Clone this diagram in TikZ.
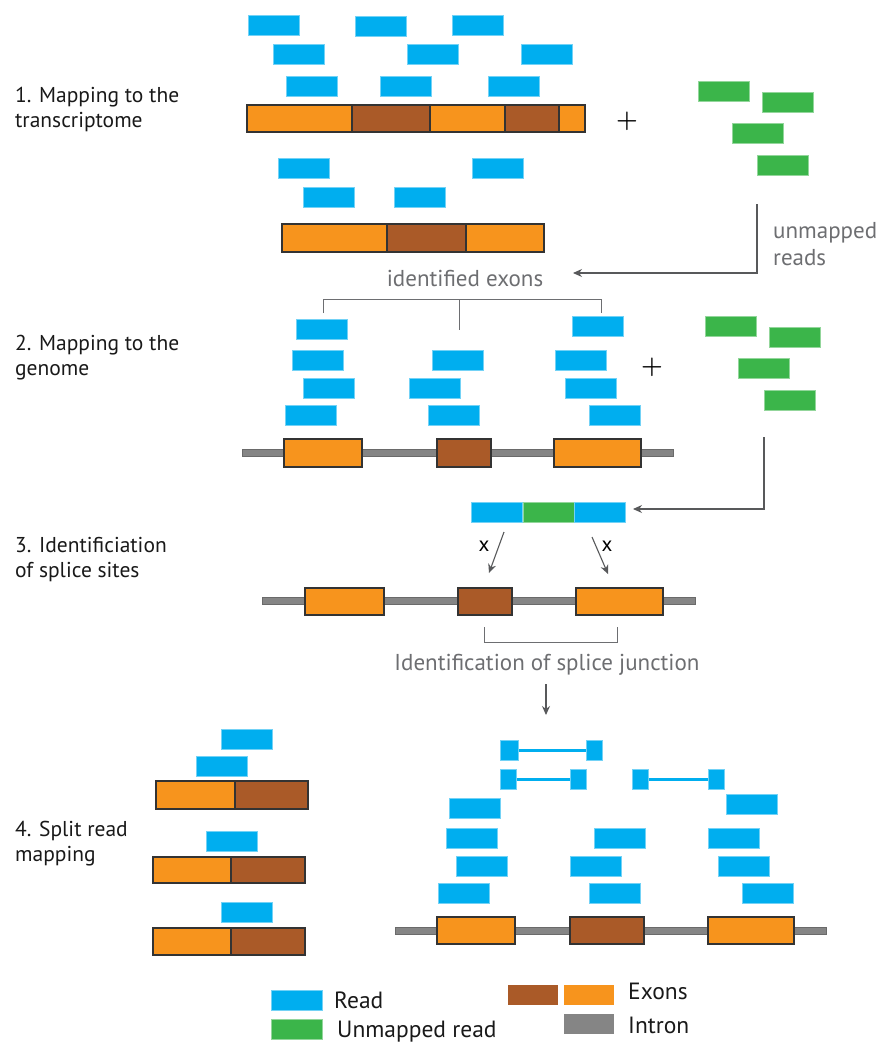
\documentclass[tikz,border=0pt]{standalone}
\usepackage{fontspec}
\setmainfont{PT Sans}
\usetikzlibrary{arrows.meta,positioning}
\definecolor{readblue}{HTML}{00AEEF}
\definecolor{unmapgreen}{HTML}{3BB54A}
\definecolor{exonorange}{HTML}{F7941D}
\definecolor{exonbrown}{HTML}{AA5A28}
\definecolor{introngray}{HTML}{858585}
\definecolor{textgray}{HTML}{6D6E71}
\definecolor{linegray}{HTML}{58595B}

\begin{document}
\begin{tikzpicture}[x=1pt,y=-1pt,
  read/.style={anchor=north west, inner sep=0pt, minimum width=51pt, minimum height=20pt, fill=readblue, draw=readblue!55!white, line width=0.5pt},
  unmapped/.style={read, fill=unmapgreen, draw=unmapgreen!55!white},
  piece/.style={read, minimum width=16pt},
  exon/.style={draw=black!80, line width=1.2pt},
  intron/.style={draw=introngray!80!black, fill=introngray, line width=0.5pt},
  steplabel/.style={anchor=base west, align=left, inner sep=0pt, font=\fontsize{21.5}{25}\selectfont, text=black!90},
  keylabel/.style={anchor=base west, inner sep=0pt, font=\fontsize{23.5}{24}\selectfont, text=black!90},
  note/.style={inner sep=0pt, align=left, font=\fontsize{23}{27}\selectfont, text=textgray},
  plus/.style={inner sep=0pt, font=\fontsize{30}{30}\selectfont\boldmath},
  pointer/.style={draw=linegray, line width=1.1pt, -{Stealth[length=9pt,width=8pt]}},
  bracket/.style={draw=textgray, line width=1pt}]

  \useasboundingbox (0,0) rectangle (884,1042);

  % step labels (base = last line)
  \node[steplabel] (l1) at (15,127) {1. Mapping to the\\transcriptome};
  \node[steplabel] (l2) at (15,375) {2. Mapping to the\\genome};
  \node[steplabel] (l3) at (15,577) {3. Identificiation\\of splice sites};
  \node[steplabel] (l4) at (15,861) {4. Split read\\mapping};

  %% 1. transcriptome
  \foreach \x/\y [count=\i] in {248/15,355/16,452/15,273/44,407/44,521/44,286/76,380/76,488/76,278/158,303/187,394/187,472/158}
    \node[read] (ra\i) at (\x,\y) {};
  \foreach \x/\y [count=\i] in {698/81,762/92,732/123,757/155}
    \node[unmapped] (ua\i) at (\x,\y) {};
  \draw[exon, fill=exonorange] (247,105) rectangle (352,132);
  \draw[exon, fill=exonbrown] (352,105) rectangle (430,132);
  \draw[exon, fill=exonorange] (430,105) rectangle (505,132);
  \draw[exon, fill=exonbrown] (505,105) rectangle (559,132);
  \draw[exon, fill=exonorange] (559,105) rectangle (585,132);
  \draw[exon, fill=exonorange] (282,224) rectangle (387,252);
  \draw[exon, fill=exonbrown] (387,224) rectangle (466,252);
  \draw[exon, fill=exonorange] (466,224) rectangle (544,252);
  \node[plus] (plus1) at (627,121) {$+$};

  \node[note, anchor=base west] (unm) at (773,265) {unmapped\\reads};
  \coordinate (u1) at (757,204);
  \coordinate (u1e) at (573,273);
  \draw[pointer] (u1) |- (u1e);

  \node[note, anchor=base] (idex) at (465,286) {identified exons};
  \draw[bracket] (323,313) -- (323,299) -- (601,299) -- (601,313);
  \draw[bracket] (459,299) -- (459,330);

  %% 2. genome
  \foreach \x/\y [count=\i] in {296/319,292/350,303/378,285/405,432/350,409/378,428/405,572/316,555/350,565/378,589/405}
    \node[read] (rb\i) at (\x,\y) {};
  \foreach \x/\y [count=\i] in {705/316,769/327,738/358,764/390}
    \node[unmapped] (ub\i) at (\x,\y) {};
  \node[plus] (plus2) at (652,367) {$+$};
  \draw[intron] (242,449.5) rectangle (673,456.5);
  \draw[exon, fill=exonorange] (284,439) rectangle (362,467);
  \draw[exon, fill=exonbrown] (437,439) rectangle (491,467);
  \draw[exon, fill=exonorange] (554,439) rectangle (641,467);

  \coordinate (u2) at (764,437);
  \coordinate (u2e) at (633,509);
  \draw[pointer] (u2) |- (u2e);

  %% 3. splice sites
  \node[read] (sa) at (471,502) {};
  \node[unmapped, anchor=west] (sb) at (sa.east) {};
  \node[read, anchor=west] (sc) at (sb.east) {};
  \draw[intron] (262,597.5) rectangle (695,604.5);
  \draw[exon, fill=exonorange] (305,588) rectangle (384,615);
  \draw[exon, fill=exonbrown] (458,588) rectangle (512,615);
  \draw[exon, fill=exonorange] (576,588) rectangle (663,615);
  \coordinate (xa) at (504,532);
  \coordinate (xb) at (489,573);
  \coordinate (xc) at (592,537);
  \coordinate (xd) at (608,574);
  \draw[pointer] (xa) -- (xb);
  \draw[pointer] (xc) -- (xd);
  \node[font=\fontsize{21}{21}\selectfont, inner sep=0pt] (xl) at (484,546) {x};
  \node[font=\fontsize{21}{21}\selectfont, inner sep=0pt] (xr) at (607,546) {x};
  \draw[bracket] (484,627) -- (484,642) -- (617,642) -- (617,627);
  \node[note, anchor=base] (junc) at (547,670) {Identification of splice junction};
  \coordinate (da) at (546,684);
  \coordinate (db) at (546,715);
  \draw[pointer] (da) -- (db);

  %% 4. split reads, left
  \foreach \x/\y [count=\i] in {221/729,196/756,206/831,221/902}
    \node[read] (rc\i) at (\x,\y) {};
  \draw[exon, fill=exonorange] (156,781) rectangle (235,809);
  \draw[exon, fill=exonbrown] (235,781) rectangle (308,809);
  \draw[exon, fill=exonorange] (153,857) rectangle (231,883);
  \draw[exon, fill=exonbrown] (231,857) rectangle (305,883);
  \draw[exon, fill=exonorange] (153,928) rectangle (231,955);
  \draw[exon, fill=exonbrown] (231,928) rectangle (305,955);

  %% 4. split reads, right
  \node[piece, minimum width=18pt] (pa1) at (500,740) {};
  \node[piece] (pa2) at (586,740) {};
  \node[piece] (pb1) at (500,769) {};
  \node[piece] (pb2) at (570,769) {};
  \node[piece] (pc1) at (632,769) {};
  \node[piece] (pc2) at (708,769) {};
  \draw[readblue, line width=2.5pt] (pa1.east) -- (pa2.west);
  \draw[readblue, line width=2.5pt] (pb1.east) -- (pb2.west);
  \draw[readblue, line width=2.5pt] (pc1.east) -- (pc2.west);
  \foreach \x/\y [count=\i] in {449/798,446/828,456/856,438/883,594/828,570/856,589/883,726/794,708/828,718/856,742/883}
    \node[read] (rd\i) at (\x,\y) {};
  \draw[intron] (395,927.5) rectangle (826,934.5);
  \draw[exon, fill=exonorange] (437,917) rectangle (515,944);
  \draw[exon, fill=exonbrown] (570,917) rectangle (644,944);
  \draw[exon, fill=exonorange] (708,917) rectangle (794,944);

  %% legend
  \node[read] (kr) at (271,990) {};
  \node[unmapped] (ku) at (271,1019) {};
  \fill[exonbrown] (508,985) rectangle (558,1005);
  \fill[exonorange] (564,985) rectangle (614,1005);
  \fill[introngray] (564,1014) rectangle (614,1034);
  \node[keylabel] (kread) at (334,1008) {Read};
  \node[keylabel] (kunm) at (337,1037) {Unmapped read};
  \node[keylabel] (kexon) at (628,999) {Exons};
  \node[keylabel] (kintr) at (628,1033) {Intron};
\end{tikzpicture}
\end{document}
